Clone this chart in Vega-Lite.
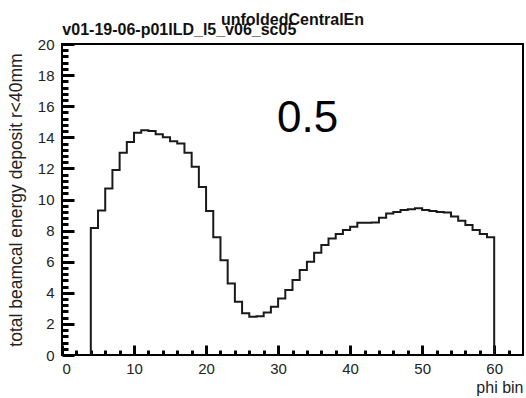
{
  "$schema": "https://vega.github.io/schema/vega-lite/v6.json",
  "width": 461,
  "height": 311,
  "autosize": {"type": "none"},
  "padding": {"left": 62, "top": 44, "right": 3, "bottom": 43},
  "background": "white",
  "config": {
    "view": {"stroke": "black", "strokeWidth": 2},
    "font": "Liberation Sans",
    "axis": {"grid": false, "domain": false, "labelFont": "Liberation Sans", "titleFont": "Liberation Sans", "labelColor": "#222", "titleColor": "#222", "titleFontWeight": "normal"}
  },
  "data": {
    "values": [
      {"phi": 4, "e": 0},
      {"phi": 4, "e": 8.17},
      {"phi": 5, "e": 9.3},
      {"phi": 6, "e": 10.7},
      {"phi": 7, "e": 11.9},
      {"phi": 8, "e": 13.0},
      {"phi": 9, "e": 13.7},
      {"phi": 10, "e": 14.3},
      {"phi": 11, "e": 14.45},
      {"phi": 12, "e": 14.4},
      {"phi": 13, "e": 14.2},
      {"phi": 14, "e": 14.0},
      {"phi": 15, "e": 13.75},
      {"phi": 16, "e": 13.6},
      {"phi": 17, "e": 13.0},
      {"phi": 18, "e": 12.1},
      {"phi": 19, "e": 10.8},
      {"phi": 20, "e": 9.26},
      {"phi": 21, "e": 7.57},
      {"phi": 22, "e": 6.1},
      {"phi": 23, "e": 4.6},
      {"phi": 24, "e": 3.43},
      {"phi": 25, "e": 2.68},
      {"phi": 26, "e": 2.46},
      {"phi": 27, "e": 2.5},
      {"phi": 28, "e": 2.74},
      {"phi": 29, "e": 3.1},
      {"phi": 30, "e": 3.64},
      {"phi": 31, "e": 4.18},
      {"phi": 32, "e": 4.82},
      {"phi": 33, "e": 5.47},
      {"phi": 34, "e": 6.0},
      {"phi": 35, "e": 6.58},
      {"phi": 36, "e": 7.07},
      {"phi": 37, "e": 7.5},
      {"phi": 38, "e": 7.78},
      {"phi": 39, "e": 8.04},
      {"phi": 40, "e": 8.25},
      {"phi": 41, "e": 8.5},
      {"phi": 42, "e": 8.5},
      {"phi": 43, "e": 8.52},
      {"phi": 44, "e": 8.83},
      {"phi": 45, "e": 9.1},
      {"phi": 46, "e": 9.2},
      {"phi": 47, "e": 9.32},
      {"phi": 48, "e": 9.37},
      {"phi": 49, "e": 9.43},
      {"phi": 50, "e": 9.32},
      {"phi": 51, "e": 9.26},
      {"phi": 52, "e": 9.2},
      {"phi": 53, "e": 9.17},
      {"phi": 54, "e": 8.9},
      {"phi": 55, "e": 8.64},
      {"phi": 56, "e": 8.36},
      {"phi": 57, "e": 8.04},
      {"phi": 58, "e": 7.78},
      {"phi": 59, "e": 7.57},
      {"phi": 60, "e": 0}
    ]
  },
  "resolve": {"axis": {"x": "independent", "y": "independent"}},
  "layer": [
    {
      "mark": {"type": "line", "interpolate": "step-after", "stroke": "#1a1a1a", "strokeWidth": 2},
      "encoding": {
        "x": {"field": "phi", "type": "quantitative", "sort": null,
          "scale": {"domain": [0, 64], "nice": false, "zero": false},
          "axis": {"orient": "bottom", "values": [0, 10, 20, 30, 40, 50, 60], "ticks": true, "tickSize": 0, "tickWidth": 3, "tickColor": "black", "labelPadding": 6, "labelFontSize": 15, "labelBaseline": "top",
            "title": "phi bin", "titleFontSize": 16, "titleAnchor": "end", "titlePadding": 3}},
        "y": {"field": "e", "type": "quantitative",
          "scale": {"domain": [0, 20], "nice": false},
          "axis": {"orient": "left", "values": [0, 2, 4, 6, 8, 10, 12, 14, 16, 18, 20], "ticks": true, "tickSize": 0, "tickWidth": 3, "tickColor": "black", "labelPadding": 8, "labelFontSize": 15,
            "title": "total beamcal energy deposit r<40mm", "titleFontSize": 17.5, "titleAnchor": "middle", "titlePadding": 12}}
      }
    },
    {
      "mark": {"type": "point", "opacity": 0},
      "encoding": {
        "x": {"field": "phi", "type": "quantitative",
          "axis": {"orient": "bottom", "values": [0, 10, 20, 30, 40, 50, 60], "labels": false, "title": null, "ticks": true, "tickSize": -10, "tickColor": "black", "tickWidth": 3}},
        "y": {"field": "e", "type": "quantitative",
          "axis": {"orient": "left", "values": [0, 2, 4, 6, 8, 10, 12, 14, 16, 18, 20], "labels": false, "title": null, "ticks": true, "tickSize": -12, "tickColor": "black", "tickWidth": 3}}
      }
    },
    {
      "mark": {"type": "point", "opacity": 0},
      "encoding": {
        "x": {"field": "phi", "type": "quantitative",
          "axis": {"orient": "bottom", "values": [2, 4, 6, 8, 12, 14, 16, 18, 22, 24, 26, 28, 32, 34, 36, 38, 42, 44, 46, 48, 52, 54, 56, 58, 62], "labels": false, "title": null, "ticks": true, "tickSize": -5, "tickColor": "black", "tickWidth": 3}},
        "y": {"field": "e", "type": "quantitative",
          "axis": {"orient": "left", "values": [0.4, 0.8, 1.2, 1.6, 2.4, 2.8, 3.2, 3.6, 4.4, 4.8, 5.2, 5.6, 6.4, 6.8, 7.2, 7.6, 8.4, 8.8, 9.2, 9.6, 10.4, 10.8, 11.2, 11.6, 12.4, 12.8, 13.2, 13.6, 14.4, 14.8, 15.2, 15.6, 16.4, 16.8, 17.2, 17.6, 18.4, 18.8, 19.2, 19.6], "labels": false, "title": null, "ticks": true, "tickSize": -6, "tickColor": "black", "tickWidth": 3}}
      }
    },
    {
      "data": {"values": [{}]},
      "mark": {"type": "text", "text": "0.5", "fontSize": 44, "align": "center", "baseline": "alphabetic", "color": "black", "font": "Liberation Sans"},
      "encoding": {"x": {"datum": 34.1, "axis": null}, "y": {"datum": 14.36, "axis": null}}
    },
    {
      "data": {"values": [{}]},
      "mark": {"type": "text", "text": "v01-19-06-p01ILD_l5_v06_sc05", "fontSize": 16, "fontWeight": "bold", "align": "left", "baseline": "alphabetic", "color": "#111", "font": "Liberation Sans"},
      "encoding": {"x": {"datum": 0.05, "axis": null}, "y": {"datum": 20.58, "axis": null}}
    },
    {
      "data": {"values": [{}]},
      "mark": {"type": "text", "text": "unfoldedCentralEn", "fontSize": 16, "fontWeight": "bold", "align": "center", "baseline": "alphabetic", "color": "#111", "font": "Liberation Sans"},
      "encoding": {"x": {"datum": 32.0, "axis": null}, "y": {"datum": 21.22, "axis": null}}
    }
  ]
}
